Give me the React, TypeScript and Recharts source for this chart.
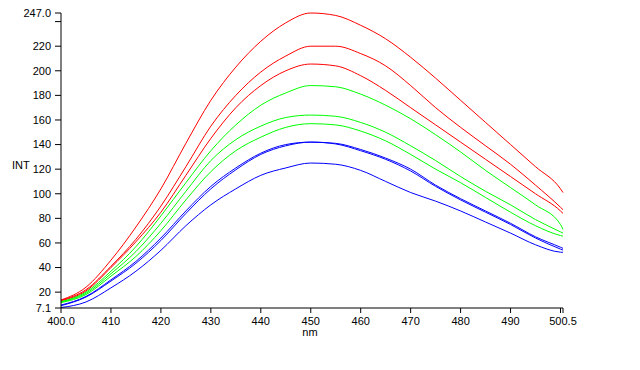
import React from "react";
import { LineChart, Line, XAxis, YAxis } from "recharts";

const wavelengths = [400, 405, 410, 415, 420, 425, 430, 435, 440, 445, 450, 455, 460, 465, 470, 475, 480, 485, 490, 495, 500, 500.5];

const red1 = [13.6, 24, 46, 73, 104, 141, 176, 203, 224, 239, 247, 245, 237, 226, 211, 194, 176, 158, 140, 122, 104, 101];
const red2 = [13.3, 22, 41, 63, 90, 122, 155, 180, 199, 212, 220, 220, 214, 204, 188, 170, 154, 139, 124, 107, 89, 87];
const red3 = [13, 21, 40, 61, 85, 115, 145, 170, 188, 200, 205.5, 204, 196, 184, 170, 156, 142, 128, 114, 100, 86, 84];
const green1 = [12.2, 20, 37, 57, 82, 109, 135, 156, 172, 182, 188, 187, 181, 172, 161, 148, 134, 119, 105, 91, 75, 71];
const green2 = [12, 19, 35, 53, 76, 102, 127, 144, 155, 162, 164, 163, 158, 150, 139, 127, 114, 102, 91, 79, 69, 68];
const green3 = [11.5, 18, 33, 49, 70, 95, 118, 135, 146, 154, 157, 156, 151, 143, 132, 120, 109, 97, 85, 74, 66, 65.5];
const blue1 = [9.5, 16.5, 30, 45, 64, 86, 106, 121, 133, 140, 142, 141, 136, 129, 120, 107, 96, 86, 76, 65, 56.5, 55.6];
const blue2 = [9, 16, 29, 43.5, 62, 84, 104, 119.5, 132, 139, 142, 140.5, 135, 128, 118.5, 106, 95, 85, 75, 64, 55, 54.2];
const blue3 = [7.5, 12, 23.5, 37, 54, 74, 91, 104, 115, 121, 125, 124, 119, 110, 101, 94, 86, 77, 68, 58.5, 52.5, 52.4];

const xTicks = [400, 410, 420, 430, 440, 450, 460, 470, 480, 490, 500, 500.5];
const yTicks = [7.1, 20, 40, 60, 80, 100, 120, 140, 160, 180, 200, 220, 240, 247];

const seriesList = [
  { key: "r1", values: red1, color: "#ff0000" },
  { key: "r2", values: red2, color: "#ff0000" },
  { key: "r3", values: red3, color: "#ff0000" },
  { key: "g1", values: green1, color: "#00ff00" },
  { key: "g2", values: green2, color: "#00ff00" },
  { key: "g3", values: green3, color: "#00ff00" },
  { key: "b1", values: blue1, color: "#0000ff" },
  { key: "b2", values: blue2, color: "#0000ff" },
  { key: "b3", values: blue3, color: "#0000ff" },
];

const data = wavelengths.map((nm, i) => {
  const row: Record<string, number> = { nm };
  seriesList.forEach((s) => {
    row[s.key] = s.values[i];
  });
  return row;
});

const font = "'Liberation Sans', Arial, sans-serif";

const fmtX = (v: number) => {
  if (v === 400) return "400.0";
  if (v === 500.5) return "500.5";
  if (v === 500) return "";
  return String(v);
};

const fmtY = (v: number) => {
  if (v === 247) return "247.0";
  if (v === 240) return "";
  return String(v);
};

export default function App() {
  return (
    <div style={{ position: "absolute", left: 0, top: 0, width: 640, height: 370, background: "#fff" }}>
      <LineChart
        width={640}
        height={370}
        data={data}
        margin={{ top: 13, right: 77, bottom: 32, left: 0 }}
        style={{ fontFamily: font }}
      >
        <XAxis
          dataKey="nm"
          type="number"
          domain={[400, 500.5]}
          ticks={xTicks}
          interval={0}
          tickFormatter={fmtX}
          height={30}
          tickSize={5}
          tickMargin={4}
          axisLine={{ stroke: "#000" }}
          tickLine={{ stroke: "#000" }}
          tick={{ fill: "#000", fontSize: 11, fontFamily: font }}
          label={{ value: "nm", position: "insideBottom", offset: 2, dx: -2, fill: "#000", fontSize: 11, fontFamily: font }}
        />
        <YAxis
          type="number"
          domain={[7.1, 247]}
          ticks={yTicks}
          interval={0}
          tickFormatter={fmtY}
          width={61}
          tickSize={6}
          tickMargin={4}
          axisLine={{ stroke: "#000" }}
          tickLine={{ stroke: "#000" }}
          tick={{ fill: "#000", fontSize: 11, fontFamily: font }}
          label={{ value: "INT", position: "insideLeft", offset: 12, dy: 5, fill: "#000", fontSize: 11, fontFamily: font }}
        />
        {seriesList.map((s) => (
          <Line
            key={s.key}
            dataKey={s.key}
            type="monotone"
            stroke={s.color}
            strokeWidth={1}
            dot={false}
            activeDot={false}
            isAnimationActive={false}
          />
        ))}
      </LineChart>
    </div>
  );
}
